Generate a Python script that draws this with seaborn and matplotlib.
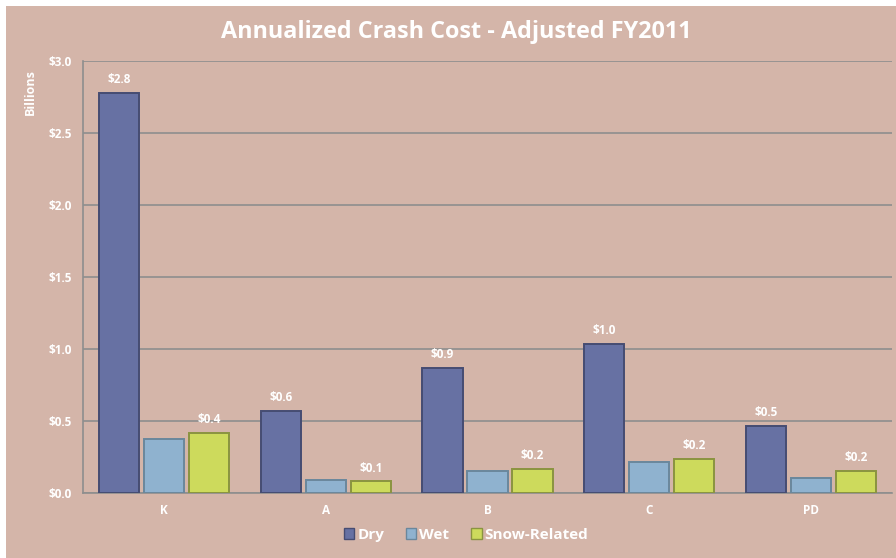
import matplotlib
matplotlib.use("Agg")
import matplotlib.pyplot as plt
from matplotlib.patches import Rectangle
import seaborn as sns
import pandas as pd

# Crash severity categories and annualized cost (billions of dollars)
categories = ["K", "A", "B", "C", "PD"]
dry = [2.78, 0.57, 0.87, 1.035, 0.465]
wet = [0.375, 0.09, 0.15, 0.215, 0.105]
snow = [0.42, 0.08, 0.165, 0.235, 0.155]
series_names = ["Dry", "Wet", "Snow-Related"]
y_ticks = [0.0, 0.5, 1.0, 1.5, 2.0, 2.5, 3.0]

df = pd.DataFrame({
    "Category": categories * 3,
    "Cost": dry + wet + snow,
    "Condition": [series_names[0]] * 5 + [series_names[1]] * 5 + [series_names[2]] * 5,
})

bg = "#d4b5a9"
palette = {"Dry": "#6771a3", "Wet": "#8fb2cf", "Snow-Related": "#cdda5c"}
edges = {"Dry": "#464c72", "Wet": "#6a879c", "Snow-Related": "#8a9440"}

sns.set_theme(style="white")
plt.rcParams["font.family"] = ["Open Sans", "DejaVu Sans"]

fig = plt.figure(figsize=(8.96, 5.58), dpi=100)
fig.patch.set_facecolor("white")
fig.patches.append(Rectangle((6 / 896, 0), 1 - 6 / 896, 1 - 6 / 558,
                             transform=fig.transFigure, facecolor=bg,
                             edgecolor="none", zorder=-10))

ax = fig.add_axes([83 / 896, 1 - 493 / 558, (892 - 83) / 896, (493 - 61) / 558])
ax.set_facecolor(bg)

sns.barplot(data=df, x="Category", y="Cost", hue="Condition", order=categories,
            hue_order=series_names, palette=palette, saturation=1,
            width=0.835, gap=0.11, ax=ax, legend=True, zorder=3)

for cont, name in zip(ax.containers, series_names):
    for bar in cont:
        bar.set_edgecolor(edges[name])
        bar.set_linewidth(1.4)
    if name != "Wet":
        ax.bar_label(cont, labels=[f"${b.get_height():.1f}" for b in cont],
                     padding=5, color="white", fontsize=8.5, fontweight="bold")

ax.set_ylim(0, 3.0)
ax.set_xlim(-0.5, 4.5)
ax.set_yticks(y_ticks)
ax.set_yticklabels([f"${t:.1f}" for t in y_ticks], color="white",
                   fontsize=8.5, fontweight="bold")
ax.set_xticks(range(len(categories)))
ax.set_xticklabels(categories, color="white", fontsize=8.5, fontweight="bold")
ax.tick_params(axis="both", length=0, pad=8)
ax.tick_params(axis="x", pad=8)
ax.yaxis.grid(True, color="#8e8e8e", linewidth=1.2, zorder=0)
ax.set_axisbelow(True)
for side in ["top", "right"]:
    ax.spines[side].set_visible(False)
ax.spines["left"].set_color("#8e8e8e")
ax.spines["bottom"].set_color("#8e8e8e")
ax.spines["left"].set_linewidth(1.2)
ax.spines["bottom"].set_linewidth(1.2)
ax.set_xlabel("")
ax.set_ylabel("")

fig.text(30 / 896, 1 - 92 / 558, "Billions", rotation=90, color="white",
         fontsize=9, fontweight="bold", ha="center", va="center")
fig.text(456 / 896, 1 - 32 / 558, "Annualized Crash Cost - Adjusted FY2011",
         color="white", fontsize=16.8, fontweight="bold", ha="center", va="center")

handles, labels = ax.get_legend_handles_labels()
ax.get_legend().remove()
for h, name in zip(handles, labels):
    h.set_edgecolor(edges[name])
leg = fig.legend(handles, labels, loc="center", bbox_to_anchor=(466 / 896, 1 - 535 / 558),
                 ncol=3, frameon=False, handlelength=0.7, handleheight=0.7,
                 handletextpad=0.2, columnspacing=1.4,
                 prop={"size": 11, "weight": "bold"})
for t in leg.get_texts():
    t.set_color("white")

fig.savefig("out.png", dpi=100, facecolor=fig.get_facecolor())
